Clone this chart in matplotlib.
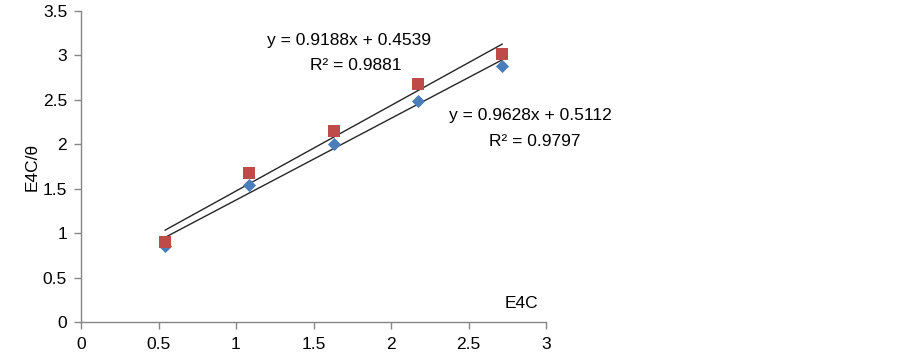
import matplotlib
matplotlib.use("Agg")
import matplotlib.pyplot as plt

x_vals = [0.543, 1.087, 1.630, 2.174, 2.717]
blue_y = [0.85, 1.54, 2.00, 2.49, 2.88]
red_y = [0.90, 1.68, 2.15, 2.68, 3.02]
blue_fit = (0.9188, 0.4539)
red_fit = (0.9628, 0.5112)
x_ticks = [0, 0.5, 1, 1.5, 2, 2.5, 3]
x_tick_labels = ["0", "0.5", "1", "1.5", "2", "2.5", "3"]
y_ticks = [0, 0.5, 1, 1.5, 2, 2.5, 3, 3.5]
y_tick_labels = ["0", "0.5", "1", "1.5", "2", "2.5", "3", "3.5"]

plt.rcParams['font.family'] = ['Liberation Sans', 'DejaVu Sans']
FS = 12.5

fig = plt.figure(figsize=(9.03, 3.58), dpi=100)
ax = fig.add_axes([81/903, 36/358, 465/903, 311/358])

xs = [x_vals[0], x_vals[-1]]
ax.plot(xs, [red_fit[0]*v + red_fit[1] for v in xs], color='#262626', lw=1.0, zorder=2)
ax.plot(xs, [blue_fit[0]*v + blue_fit[1] for v in xs], color='#262626', lw=1.0, zorder=2)
ax.scatter(x_vals, blue_y, marker='D', s=45, color='#4A7EBB', zorder=3, linewidths=0)
ax.scatter(x_vals, red_y, marker='s', s=70, color='#BE4B48', zorder=3, linewidths=0)

ax.set_xlim(0, 3)
ax.set_ylim(0, 3.5)
ax.set_xticks(x_ticks)
ax.set_xticklabels(x_tick_labels)
ax.set_yticks(y_ticks)
ax.set_yticklabels(y_tick_labels)
for s in ['top', 'right']:
    ax.spines[s].set_visible(False)
for s in ['left', 'bottom']:
    ax.spines[s].set_color('#868686')
    ax.spines[s].set_linewidth(1.0)
ax.tick_params(axis='both', direction='out', length=5, color='#868686', labelsize=FS, labelcolor='black', width=1.0)
ax.tick_params(axis='y', pad=5)
ax.tick_params(axis='x', pad=6)

ax.set_ylabel('E4C/θ', fontsize=FS, labelpad=2)
ax.text(1.73, 3.17, 'y = 0.9188x + 0.4539', fontsize=FS, ha='center', va='center')
ax.text(1.77, 2.89, 'R² = 0.9881', fontsize=FS, ha='center', va='center')
ax.text(2.90, 2.32, 'y = 0.9628x + 0.5112', fontsize=FS, ha='center', va='center')
ax.text(2.93, 2.03, 'R² = 0.9797', fontsize=FS, ha='center', va='center')
ax.text(2.84, 0.21, 'E4C', fontsize=FS, ha='center', va='center')

fig.savefig('out.png', dpi=100)
